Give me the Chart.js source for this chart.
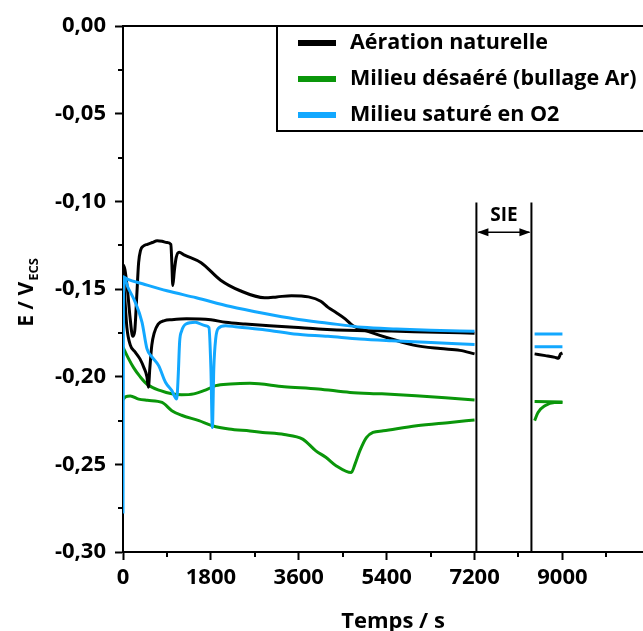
<!DOCTYPE html>
<html>
<head>
<meta charset="utf-8">
<script src="https://cdn.jsdelivr.net/npm/chart.js@4.4.0/dist/chart.umd.min.js"></script>
<style>
  html, body { margin: 0; padding: 0; background: #fff; }
</style>
</head>
<body>
<canvas id="potentielChart" width="643" height="631"></canvas>
<script>
  // Aération naturelle (2 essais)
  const aerTemps1 = [0, 40, 90, 140, 200, 240, 280, 320, 360, 420, 500, 600, 700, 800, 900, 980, 1000, 1020, 1050, 1090, 1150, 1250, 1600, 2000, 2400, 2900, 3150, 3450, 3800, 4050, 4200, 4370, 4550, 4710, 5000, 5500, 5950, 6500, 6900, 7200, 7800, 8430, 8650, 8850, 8920, 8960, 9000];
  const aerE1 = [-0.136, -0.139, -0.150, -0.165, -0.177, -0.174, -0.155, -0.135, -0.128, -0.1255, -0.1245, -0.1235, -0.1225, -0.1228, -0.1235, -0.1245, -0.135, -0.148, -0.140, -0.132, -0.129, -0.1305, -0.135, -0.145, -0.151, -0.155, -0.1545, -0.1538, -0.1545, -0.157, -0.1605, -0.1635, -0.167, -0.171, -0.174, -0.1785, -0.182, -0.184, -0.185, -0.187, null, -0.187, -0.188, -0.189, -0.1895, -0.187, -0.1865];
  const aerTemps2 = [0, 30, 80, 150, 250, 350, 430, 490, 520, 550, 590, 640, 720, 850, 1000, 1300, 1800, 2100, 2500, 3000, 3500, 4000, 4800, 5500, 6200, 7200];
  const aerE2 = [-0.14, -0.152, -0.172, -0.182, -0.186, -0.190, -0.195, -0.200, -0.206, -0.195, -0.182, -0.175, -0.170, -0.168, -0.1675, -0.167, -0.1676, -0.169, -0.170, -0.171, -0.1718, -0.1728, -0.1737, -0.174, -0.1745, -0.1752];

  // Milieu désaéré (bullage Ar)
  const arTemps1 = [0, 100, 220, 350, 500, 770, 1000, 1200, 1450, 1700, 1900, 2200, 2600, 3300, 4000, 4650, 5300, 6000, 6600, 7200, 7800, 8430, 9000];
  const arE1 = [-0.1832, -0.189, -0.195, -0.200, -0.2045, -0.208, -0.2098, -0.2103, -0.2098, -0.2075, -0.2051, -0.2042, -0.2038, -0.2057, -0.207, -0.209, -0.2098, -0.2109, -0.212, -0.2133, null, -0.2141, -0.2145];
  const arTemps2 = [0, 50, 150, 320, 500, 800, 1000, 1200, 1555, 1830, 2170, 2600, 2860, 3300, 3680, 3950, 4160, 4370, 4676, 4750, 4850, 4985, 5120, 5330, 6013, 6700, 7200, 7800, 8430, 8500, 8640, 8840, 9000];
  const arE2 = [-0.213, -0.2115, -0.211, -0.2128, -0.2135, -0.2147, -0.2194, -0.222, -0.2251, -0.228, -0.2299, -0.231, -0.2318, -0.233, -0.2356, -0.2423, -0.2461, -0.2509, -0.2547, -0.250, -0.2423, -0.2347, -0.2318, -0.2309, -0.228, -0.2261, -0.2247, null, -0.2251, -0.2204, -0.2166, -0.2147, -0.2147];

  // Milieu saturé en O2
  const o2Temps1 = [0, 100, 400, 900, 1500, 2200, 2900, 3500, 4200, 4900, 5600, 6300, 7200, 7800, 8430, 9000];
  const o2E1 = [-0.143, -0.1445, -0.147, -0.151, -0.155, -0.160, -0.164, -0.167, -0.1695, -0.1718, -0.1728, -0.1735, -0.1741, null, -0.1756, -0.1756];
  const o2Temps2 = [0, 12, 100, 250, 390, 490, 600, 730, 870, 1000, 1100, 1130, 1160, 1200, 1290, 1480, 1690, 1760, 1800, 1830, 1860, 1900, 1950, 2100, 2300, 2800, 3500, 4200, 4850, 5500, 6200, 7200, 7800, 8430, 9000];
  const o2E2 = [-0.278, -0.143, -0.149, -0.1575, -0.169, -0.184, -0.189, -0.1937, -0.2032, -0.208, -0.2128, -0.200, -0.180, -0.174, -0.170, -0.169, -0.1709, -0.172, -0.195, -0.229, -0.195, -0.178, -0.1725, -0.171, -0.1715, -0.173, -0.1756, -0.177, -0.1785, -0.1795, -0.1804, -0.1817, null, -0.1829, -0.1829];

  // Axes
  const tempsMax = 10650;
  const tempsTicks = [0, 1800, 3600, 5400, 7200, 9000];
  const tempsMinor = [900, 2700, 4500, 6300, 8100, 9900];
  const eTicks = [0, -0.05, -0.10, -0.15, -0.20, -0.25, -0.30];
  const eMinor = [-0.025, -0.075, -0.125, -0.175, -0.225, -0.275];

  // SIE (interruption pour la spectroscopie d'impédance)
  const sieDebut = 7238, sieFin = 8365, sieHaut = -0.1006, sieFleche = -0.1177;

  const legendeNoms = ['Aération naturelle', 'Milieu désaéré (bullage Ar)', 'Milieu saturé en O2'];
  const couleurs = ['#000000', '#0a960a', '#12a8ff'];

  const police = '"Open Sans", "DejaVu Sans", sans-serif';

  function points(t, e) {
    return t.map((v, i) => ({ x: v, y: e[i] }));
  }

  function serie(t, e, couleur, ordre) {
    return {
      data: points(t, e),
      borderColor: couleur,
      borderWidth: 3,
      pointRadius: 0,
      fill: false,
      spanGaps: false,
      cubicInterpolationMode: 'monotone',
      order: ordre
    };
  }

  const decor = {
    id: 'decor',
    afterDraw(chart) {
      const { ctx, chartArea: ca, scales: { x, y } } = chart;
      ctx.save();
      ctx.strokeStyle = '#000';
      ctx.fillStyle = '#000';
      ctx.lineWidth = 2;

      // cadre du haut
      ctx.beginPath();
      ctx.moveTo(ca.left - 1, ca.top);
      ctx.lineTo(chart.width, ca.top);
      ctx.stroke();

      // petites graduations
      ctx.beginPath();
      tempsMinor.forEach(v => {
        const px = Math.round(x.getPixelForValue(v));
        ctx.moveTo(px, ca.bottom);
        ctx.lineTo(px, ca.bottom + 5);
      });
      eMinor.forEach(v => {
        const py = Math.round(y.getPixelForValue(v));
        ctx.moveTo(ca.left, py);
        ctx.lineTo(ca.left - 5, py);
      });
      ctx.stroke();

      // SIE
      const x1 = x.getPixelForValue(sieDebut);
      const x2 = x.getPixelForValue(sieFin);
      const yh = y.getPixelForValue(sieHaut);
      const yf = y.getPixelForValue(sieFleche);
      ctx.beginPath();
      ctx.moveTo(x1, yh); ctx.lineTo(x1, ca.bottom);
      ctx.moveTo(x2, yh); ctx.lineTo(x2, ca.bottom);
      ctx.stroke();
      ctx.lineWidth = 1.5;
      ctx.beginPath();
      ctx.moveTo(x1 + 2, yf); ctx.lineTo(x2 - 2, yf);
      ctx.stroke();
      ctx.beginPath();
      ctx.moveTo(x1 + 1, yf); ctx.lineTo(x1 + 12, yf - 4); ctx.lineTo(x1 + 12, yf + 4); ctx.closePath();
      ctx.moveTo(x2 - 1, yf); ctx.lineTo(x2 - 12, yf - 4); ctx.lineTo(x2 - 12, yf + 4); ctx.closePath();
      ctx.fill();
      ctx.font = 'bold 19px ' + police;
      ctx.textAlign = 'center';
      ctx.textBaseline = 'middle';
      ctx.fillText('SIE', (x1 + x2) / 2, yh + 13);

      // légende
      const lx = 277, ly = ca.top, lh = 105;
      ctx.lineWidth = 2;
      ctx.fillStyle = '#fff';
      ctx.fillRect(lx, ly, chart.width - lx + 10, lh);
      ctx.strokeRect(lx, ly, chart.width - lx + 10, lh);
      ctx.font = 'bold 21.5px ' + police;
      ctx.textAlign = 'left';
      legendeNoms.forEach((nom, i) => {
        const yy = ly + 17 + i * 36;
        ctx.strokeStyle = couleurs[i];
        ctx.lineWidth = 6;
        ctx.beginPath();
        ctx.moveTo(298, yy); ctx.lineTo(336, yy);
        ctx.stroke();
        ctx.fillStyle = '#000';
        ctx.fillText(nom, 350, yy);
      });

      // titre de l'axe X
      ctx.font = 'bold 22px ' + police;
      ctx.textAlign = 'center';
      ctx.textBaseline = 'alphabetic';
      ctx.fillText('Temps / s', 393, 628);

      // titre de l'axe Y : E / V_ECS
      ctx.translate(27, 293);
      ctx.rotate(-Math.PI / 2);
      ctx.textAlign = 'left';
      ctx.font = 'bold 21px ' + police;
      const w1 = ctx.measureText('E / V').width;
      ctx.font = 'bold 13px ' + police;
      const w2 = ctx.measureText('ECS').width;
      const x0 = -(w1 + w2) / 2;
      ctx.font = 'bold 21px ' + police;
      ctx.fillText('E / V', x0, 6);
      ctx.font = 'bold 13px ' + police;
      ctx.fillText('ECS', x0 + w1 + 1, 11);
      ctx.restore();
    }
  };

  const ctx = document.getElementById('potentielChart').getContext('2d');
  new Chart(ctx, {
    type: 'line',
    data: {
      datasets: [
        serie(o2Temps1, o2E1, couleurs[2], 1),
        serie(o2Temps2, o2E2, couleurs[2], 1),
        serie(aerTemps1, aerE1, couleurs[0], 2),
        serie(aerTemps2, aerE2, couleurs[0], 2),
        serie(arTemps1, arE1, couleurs[1], 3),
        serie(arTemps2, arE2, couleurs[1], 3)
      ]
    },
    options: {
      responsive: false,
      animation: false,
      events: [],
      layout: { padding: { left: 0, top: 26, right: 0, bottom: 0 } },
      plugins: {
        legend: { display: false },
        tooltip: { enabled: false }
      },
      scales: {
        x: {
          type: 'linear',
          min: 0,
          max: tempsMax,
          afterBuildTicks: s => { s.ticks = tempsTicks.map(v => ({ value: v })); },
          afterFit: s => { s.height = 79; },
          grid: { drawOnChartArea: false, drawTicks: true, tickLength: 8, tickColor: '#000', tickWidth: 2 },
          border: { display: true, color: '#000', width: 2 },
          ticks: {
            color: '#000',
            padding: 5,
            maxRotation: 0,
            autoSkip: false,
            font: { family: police, size: 22, weight: 'bold' },
            callback: v => String(v)
          }
        },
        y: {
          min: -0.30,
          max: 0,
          afterBuildTicks: s => { s.ticks = eTicks.map(v => ({ value: v })); },
          afterFit: s => { s.width = 123; },
          grid: { drawOnChartArea: false, drawTicks: true, tickLength: 8, tickColor: '#000', tickWidth: 2 },
          border: { display: true, color: '#000', width: 2 },
          ticks: {
            color: '#000',
            padding: 9,
            autoSkip: false,
            font: { family: police, size: 22, weight: 'bold' },
            callback: v => (v === 0 ? '0,00' : v.toFixed(2).replace('.', ','))
          }
        }
      }
    },
    plugins: [decor]
  });
</script>
</body>
</html>
